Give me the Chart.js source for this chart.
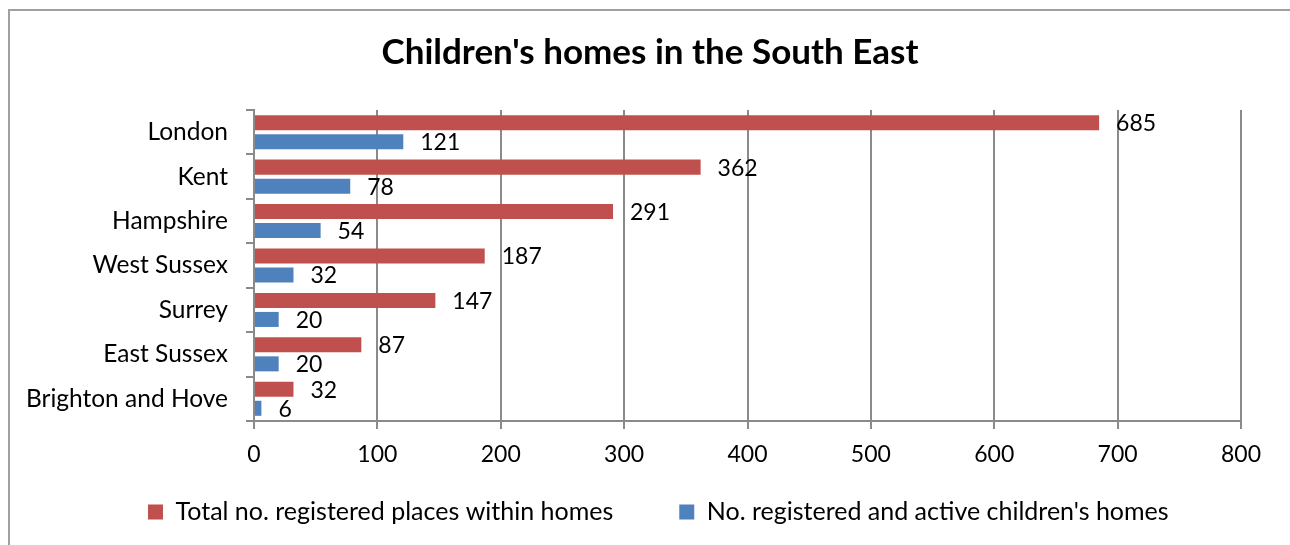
<!DOCTYPE html>
<html>
<head>
<meta charset="utf-8">
<script src="https://cdn.jsdelivr.net/npm/chart.js@4.4.1/dist/chart.umd.min.js"></script>
<style>
  html, body { margin: 0; padding: 0; background: #fff; }
  #wrap { position: relative; width: 1290px; height: 545px; }
</style>
</head>
<body>
<div id="wrap"><canvas id="c" width="1290" height="545"></canvas></div>
<script>
const categories = ["London", "Kent", "Hampshire", "West Sussex", "Surrey", "East Sussex", "Brighton and Hove"];
const placesValues = [685, 362, 291, 187, 147, 87, 32];
const homesValues = [121, 78, 54, 32, 20, 20, 6];
const seriesNames = ["Total no. registered places within homes", "No. registered and active children's homes"];
const xTicks = [0, 100, 200, 300, 400, 500, 600, 700, 800];
const titleText = "Children's homes in the South East";

const FONT = "Lato";
const GRID = "#8a8a8a";

const borderPlugin = {
  id: 'outerBorder',
  beforeDraw(chart) {
    const ctx = chart.ctx;
    ctx.save();
    ctx.fillStyle = '#fff';
    ctx.fillRect(0, 0, chart.width, chart.height);
    ctx.strokeStyle = '#a0a0a0';
    ctx.lineWidth = 2;
    ctx.strokeRect(9, 10, 1400, 700);
    ctx.restore();
  }
};

// place the title and legend like the reference (centred over the whole frame)
const placePlugin = {
  id: 'placeBlocks',
  afterLayout(chart) {
    const t = chart.titleBlock;
    if (t) { const dx = 650 - (t.left + t.right) / 2; t.left += dx; t.right += dx; }
    const lg = chart.legend;
    if (lg && lg.lineWidths) {
      const pad = lg.options.labels.padding;
      const start = (lg.left + pad + lg.right - lg.lineWidths[0]) / 2;
      const dx = 148 - start;
      lg.left += dx; lg.right += dx;
      const fs = lg.options.labels.font.size;
      lg.top = 512 - pad - fs / 2;
      lg.bottom = chart.height;
      lg.height = lg.bottom - lg.top;
    }
  }
};

const labelPlugin = {
  id: 'valueLabels',
  afterDatasetsDraw(chart) {
    const ctx = chart.ctx;
    ctx.save();
    ctx.font = "23px " + FONT;
    ctx.fillStyle = "#000";
    ctx.textAlign = "left";
    ctx.textBaseline = "middle";
    chart.data.datasets.forEach((ds, di) => {
      const meta = chart.getDatasetMeta(di);
      meta.data.forEach((el, i) => {
        ctx.fillText(String(ds.data[i]), el.x + 17, el.y + 1);
      });
    });
    ctx.restore();
  }
};

new Chart(document.getElementById('c'), {
  type: 'bar',
  data: {
    labels: categories,
    datasets: [
      { label: seriesNames[0], data: placesValues, backgroundColor: '#C0504D', borderWidth: 0,
        categoryPercentage: 0.856, barPercentage: 0.79 },
      { label: seriesNames[1], data: homesValues, backgroundColor: '#4F81BD', borderWidth: 0,
        categoryPercentage: 0.856, barPercentage: 0.79 }
    ]
  },
  options: {
    indexAxis: 'y',
    responsive: false,
    animation: false,
    devicePixelRatio: 1,
    layout: { padding: { left: 10, right: 49, top: 0, bottom: 10 } },
    plugins: {
      title: {
        display: true,
        text: titleText,
        color: '#000',
        font: { family: FONT, size: 35, weight: 'bold' },
        padding: { top: 32, bottom: 36 }
      },
      legend: {
        display: true,
        position: 'bottom',
        maxHeight: 60,
        labels: {
          color: '#000',
          font: { family: FONT, size: 25 },
          boxWidth: 15,
          boxHeight: 15,
          padding: 66
        }
      },
      tooltip: { enabled: false }
    },
    scales: {
      x: {
        type: 'linear',
        min: xTicks[0],
        max: xTicks[xTicks.length - 1],
        afterBuildTicks(scale) { scale.ticks = xTicks.map(v => ({ value: v })); },
        afterFit(scale) { scale.height = 54; },
        ticks: { color: '#000', font: { family: FONT, size: 23 }, padding: 12 },
        grid: { color: GRID, lineWidth: 2, tickLength: 8 },
        border: { color: GRID, width: 2 }
      },
      y: {
        type: 'category',
        afterFit(scale) { scale.width = 244; },
        ticks: { color: '#000', font: { family: FONT, size: 24.5 }, padding: 18 },
        grid: { drawOnChartArea: false, drawTicks: true, tickLength: 8, color: GRID, lineWidth: 2, offset: true },
        border: { color: GRID, width: 2 }
      }
    }
  },
  plugins: [borderPlugin, placePlugin, labelPlugin]
});
</script>
</body>
</html>
